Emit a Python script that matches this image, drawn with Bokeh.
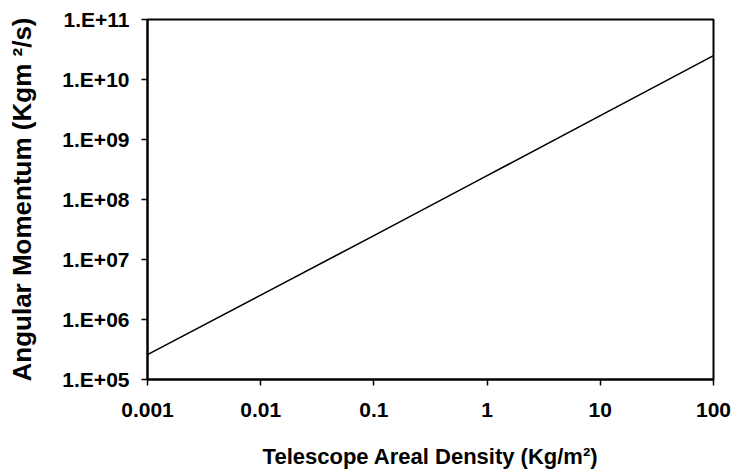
from bokeh.plotting import figure
from bokeh.models import FixedTicker
from bokeh.embed import file_html
from bokeh.resources import INLINE

# Data
areal_density = [0.001, 0.01, 0.1, 1, 10, 100]
angular_momentum = [2.6e5, 2.55e6, 2.5e7, 2.5e8, 2.5e9, 2.5e10]

x_ticks = [0.001, 0.01, 0.1, 1, 10, 100]
x_tick_labels = ["0.001", "0.01", "0.1", "1", "10", "100"]
y_ticks = [1e5, 1e6, 1e7, 1e8, 1e9, 1e10, 1e11]
y_tick_labels = ["1.E+05", "1.E+06", "1.E+07", "1.E+08", "1.E+09", "1.E+10", "1.E+11"]

FONT = "Liberation Sans"

p = figure(width=736, height=474, x_axis_type="log", y_axis_type="log",
           x_range=(0.001, 100), y_range=(1e5, 1e11),
           output_backend="svg", toolbar_location=None,
           min_border_left=147, min_border_right=23,
           min_border_top=19, min_border_bottom=95)

p.line(areal_density, angular_momentum, line_color="black", line_width=1.6)

p.xgrid.visible = False
p.ygrid.visible = False
p.outline_line_color = "black"
p.outline_line_width = 2
p.background_fill_color = "white"
p.border_fill_color = "white"

p.xaxis.ticker = FixedTicker(ticks=x_ticks)
p.xaxis.major_label_overrides = {t: l for t, l in zip(x_ticks, x_tick_labels)}
p.yaxis.ticker = FixedTicker(ticks=y_ticks)
p.yaxis.major_label_overrides = {t: l for t, l in zip(y_ticks, y_tick_labels)}

for ax in (p.xaxis, p.yaxis):
    ax.axis_line_color = "black"
    ax.axis_line_width = 2
    ax.major_tick_line_color = "black"
    ax.major_tick_line_width = 1.5
    ax.major_tick_out = 6
    ax.major_tick_in = 0
    ax.minor_tick_line_color = None
    ax.major_label_text_font = FONT
    ax.major_label_text_font_style = "bold"
    ax.major_label_text_font_size = "21px"
    ax.major_label_text_color = "black"
    ax.axis_label_text_font = FONT
    ax.axis_label_text_font_style = "bold"
    ax.axis_label_text_color = "black"

p.xaxis.axis_label_text_font_size = "22px"
p.yaxis.axis_label_text_font_size = "26px"
p.xaxis.axis_label = "Telescope Areal Density (Kg/m²)"
p.yaxis.axis_label = "Angular Momentum (Kgm ²/s)"
p.xaxis.major_label_standoff = 17
p.yaxis.major_label_standoff = 12
p.xaxis.axis_label_standoff = 24
p.yaxis.axis_label_standoff = 22

open("out.html", "w").write(file_html(p, INLINE))
